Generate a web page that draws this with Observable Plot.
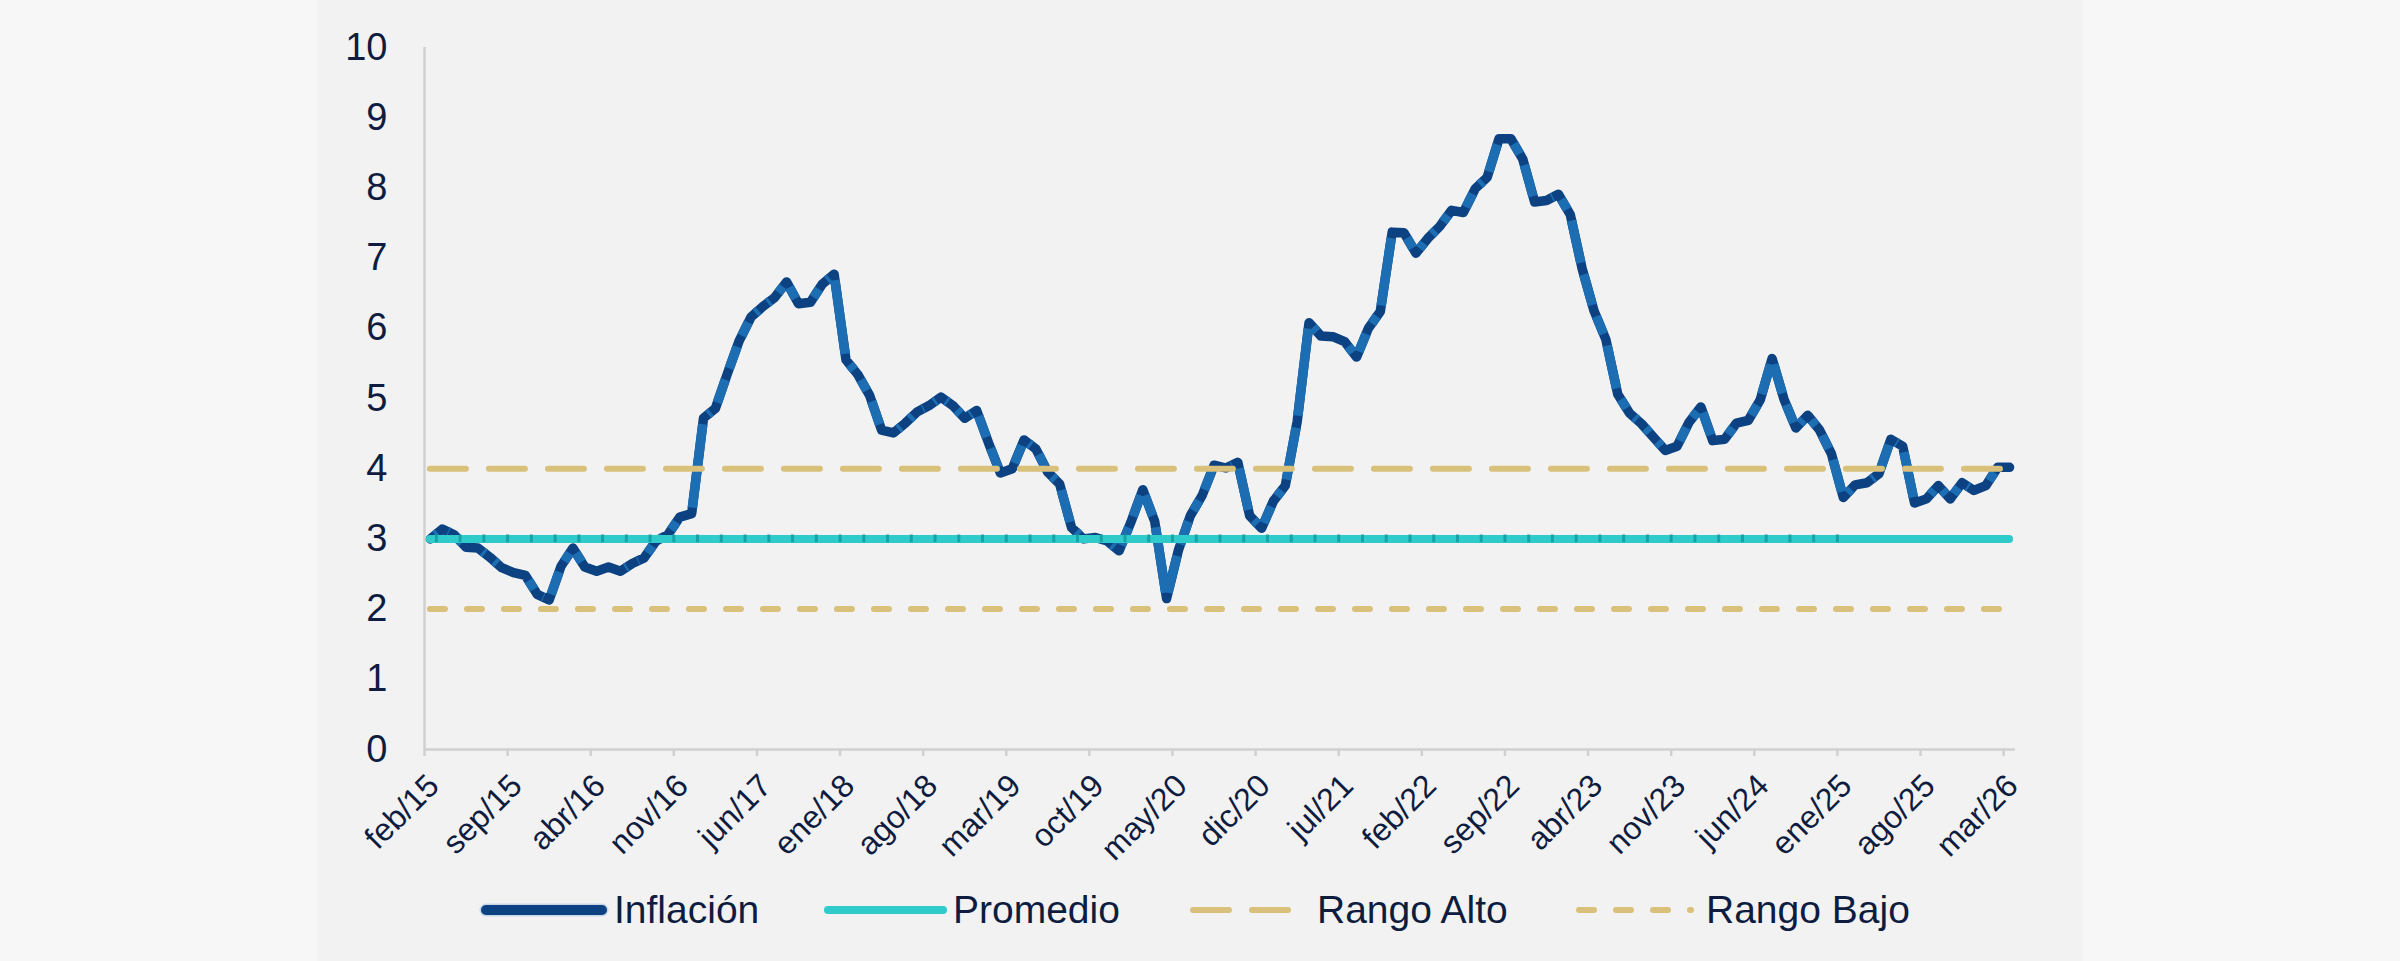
<!DOCTYPE html>
<html>
<head>
<meta charset="utf-8">
<script src="https://cdn.jsdelivr.net/npm/d3@7"></script>
<script src="https://cdn.jsdelivr.net/npm/@observablehq/plot@0.6"></script>
<style>
  html, body { margin: 0; padding: 0; width: 2400px; height: 961px; overflow: hidden; background: #f7f7f7;
    font-family: "Liberation Sans", Arial, Helvetica, sans-serif; }
  #panel { position: absolute; left: 317px; top: 0; width: 1766px; height: 961px; background: #f2f2f2; }
  #chart { position: absolute; left: 0; top: 0; }
  #legend { position: absolute; left: 0; top: 880px; width: 2400px; height: 60px; }
  .item { position: absolute; top: 0; height: 60px; display: flex; align-items: center;
    font-size: 39px; color: #0e1c40; white-space: nowrap; }
  .item svg { display: block; }
</style>
</head>
<body>
<div id="panel"></div>
<div id="chart"></div>
<div id="legend"></div>
<script>
// ---- Data ----
// Monthly annual inflation, feb/15 .. mar/26
const inflacion = [
  3.00, 3.14, 3.06, 2.88, 2.87, 2.74, 2.59, 2.52, 2.48, 2.21, 2.13,
  2.61, 2.87, 2.60, 2.54, 2.60, 2.54, 2.65, 2.73, 2.97, 3.06, 3.31, 3.36,
  4.72, 4.86, 5.35, 5.82, 6.16, 6.31, 6.44, 6.66, 6.35, 6.37, 6.63, 6.77,
  5.55, 5.34, 5.04, 4.55, 4.51, 4.65, 4.81, 4.90, 5.02, 4.90, 4.72, 4.83,
  4.37, 3.94, 4.00, 4.41, 4.28, 3.95, 3.78, 3.16, 3.00, 3.02, 2.97, 2.83,
  3.24, 3.70, 3.25, 2.15, 2.84, 3.33, 3.62, 4.05, 4.01, 4.09, 3.33, 3.15,
  3.54, 3.76, 4.67, 6.08, 5.89, 5.88, 5.81, 5.59, 6.00, 6.24, 7.37, 7.36,
  7.07, 7.28, 7.45, 7.68, 7.65, 7.99, 8.15, 8.70, 8.70, 8.41, 7.80, 7.82,
  7.91, 7.62, 6.85, 6.25, 5.84, 5.06, 4.79, 4.64, 4.45, 4.26, 4.32, 4.66,
  4.88, 4.40, 4.42, 4.65, 4.69, 4.98, 5.57, 4.99, 4.58, 4.76, 4.55, 4.21,
  3.59, 3.77, 3.80, 3.93, 4.42, 4.32, 3.51, 3.57, 3.76, 3.57, 3.80, 3.69,
  3.76, 4.02, 4.02
];
const promedio = [3];
const rangoAlto = [4];
const rangoBajo = [2];
const tickLabels = ["feb/15","sep/15","abr/16","nov/16","jun/17","ene/18","ago/18","mar/19","oct/19","may/20",
  "dic/20","jul/21","feb/22","sep/22","abr/23","nov/23","jun/24","ene/25","ago/25","mar/26"];
const tickStep = 7;            // months between labelled ticks
const yTicks = [0,1,2,3,4,5,6,7,8,9,10];
const seriesNames = ["Inflación", "Promedio", "Rango Alto", "Rango Bajo"];

// ---- Styles ----
const colDark = "#0c4282", colLight = "#1d6db2", colTeal = "#2fcbcb", colTealDark = "#17a2a5",
      colGold = "#d9c17b", colText = "#0e1c40", colAxis = "#d0d0d0";

const n = inflacion.length;
const pts = inflacion.map((v, i) => ({ i: i + 0.5, v }));       // centred in month slot
const segs = d3.pairs(pts).map(([a, b]) => ({ x1: a.i, y1: a.v, x2: b.i, y2: b.v }));
const xFirst = pts[0].i, xLast = pts[n - 1].i;
const tickPos = tickLabels.map((_, k) => k * tickStep);
// overlap marks on the average line (every two months up to ene/25)
const promMarks = d3.range(1, tickStep * 17 + 1, 2);

const chart = Plot.plot({
  width: 2400,
  height: 870,
  marginLeft: 424,
  marginRight: 385,
  marginTop: 47,
  marginBottom: 121,
  x: { domain: [0, n] },
  y: { domain: [0, 10] },
  style: { background: "transparent", fontFamily: "'Liberation Sans', Arial, sans-serif", color: colText, overflow: "visible" },
  marks: [
    Plot.ruleX([0], { y1: 0, y2: 10, stroke: colAxis, strokeWidth: 2.5 }),
    Plot.ruleY([0], { x1: 0, x2: n, stroke: colAxis, strokeWidth: 2.5 }),
    Plot.axisY({ ticks: yTicks, tickSize: 0, tickPadding: 37, fontSize: 38, label: null, tickFormat: d => String(d) }),
    // tick marks only
    Plot.axisX({ ticks: tickPos, tickFormat: () => "", tickSize: 7, stroke: colAxis, strokeWidth: 2.5, label: null }),
    // rotated labels only
    Plot.axisX({ ticks: tickPos, tickFormat: d => tickLabels[Math.round(d / tickStep)], tickSize: 0,
      tickRotate: -45, fontSize: 32, label: null, tickPadding: 13, dx: 9, dy: 18 }),
    Plot.line(pts, { x: "i", y: "v", stroke: colDark, strokeWidth: 9.5, strokeLinejoin: "round", strokeLinecap: "round" }),
    Plot.link(segs, { x1: "x1", y1: "y1", x2: "x2", y2: "y2", stroke: colLight, strokeWidth: 9.5, strokeLinecap: "butt" }),
    Plot.ruleY(promedio, { x1: xFirst, x2: xLast, stroke: colTeal, strokeWidth: 8, strokeLinecap: "round" }),
    Plot.ruleX(promMarks, { y1: promedio[0] - 0.055, y2: promedio[0] + 0.055, stroke: colTealDark, strokeWidth: 3 }),
    Plot.ruleY(rangoAlto, { x1: xFirst, x2: xLast, stroke: colGold, strokeWidth: 6, strokeLinecap: "round", strokeDasharray: "36 23" }),
    Plot.ruleY(rangoBajo, { x1: xFirst, x2: xLast, stroke: colGold, strokeWidth: 6, strokeLinecap: "round", strokeDasharray: "15 22" })
  ]
});
document.getElementById("chart").appendChild(chart);

// light middle part of each segment, dark around the vertices
const g = 6;
d3.select(chart).selectAll('g[aria-label="link"] path').each(function () {
  const L = this.getTotalLength();
  if (L > 2 * g + 1) {
    this.setAttribute("stroke-dasharray", `${L - 2 * g} ${L + 2 * g}`);
    this.setAttribute("stroke-dashoffset", `${-g}`);
  } else {
    this.setAttribute("stroke-opacity", 0);
  }
});

// ---- Legend ----
const legendItems = [
  { name: seriesNames[0], left: 478, w: 132, gap: 4, draw: s => {
      s.append("line").attr("x1", 8).attr("x2", 124).attr("y1", 15).attr("y2", 15)
        .attr("stroke", "#c9d6e8").attr("stroke-width", 13).attr("stroke-linecap", "round");
      s.append("line").attr("x1", 8).attr("x2", 124).attr("y1", 15).attr("y2", 15)
        .attr("stroke", colDark).attr("stroke-width", 10).attr("stroke-linecap", "round"); } },
  { name: seriesNames[1], left: 822, w: 127, gap: 4, draw: s => {
      s.append("line").attr("x1", 6).attr("x2", 121).attr("y1", 15).attr("y2", 15)
        .attr("stroke", colTeal).attr("stroke-width", 8).attr("stroke-linecap", "round"); } },
  { name: seriesNames[2], left: 1187, w: 120, gap: 10, draw: s => {
      s.append("line").attr("x1", 6).attr("x2", 103).attr("y1", 15).attr("y2", 15)
        .attr("stroke", colGold).attr("stroke-width", 6).attr("stroke-linecap", "round")
        .attr("stroke-dasharray", "36 23"); } },
  { name: seriesNames[3], left: 1574, w: 125, gap: 7, draw: s => {
      s.append("line").attr("x1", 5).attr("x2", 117).attr("y1", 15).attr("y2", 15)
        .attr("stroke", colGold).attr("stroke-width", 6).attr("stroke-linecap", "round")
        .attr("stroke-dasharray", "15 22"); } }
];
const legend = d3.select("#legend");
legendItems.forEach(it => {
  const div = legend.append("div").attr("class", "item").style("left", it.left + "px");
  const s = div.append("svg").attr("width", it.w).attr("height", 30).style("margin-right", it.gap + "px");
  it.draw(s);
  div.append("span").text(it.name);
});
</script>
</body>
</html>
